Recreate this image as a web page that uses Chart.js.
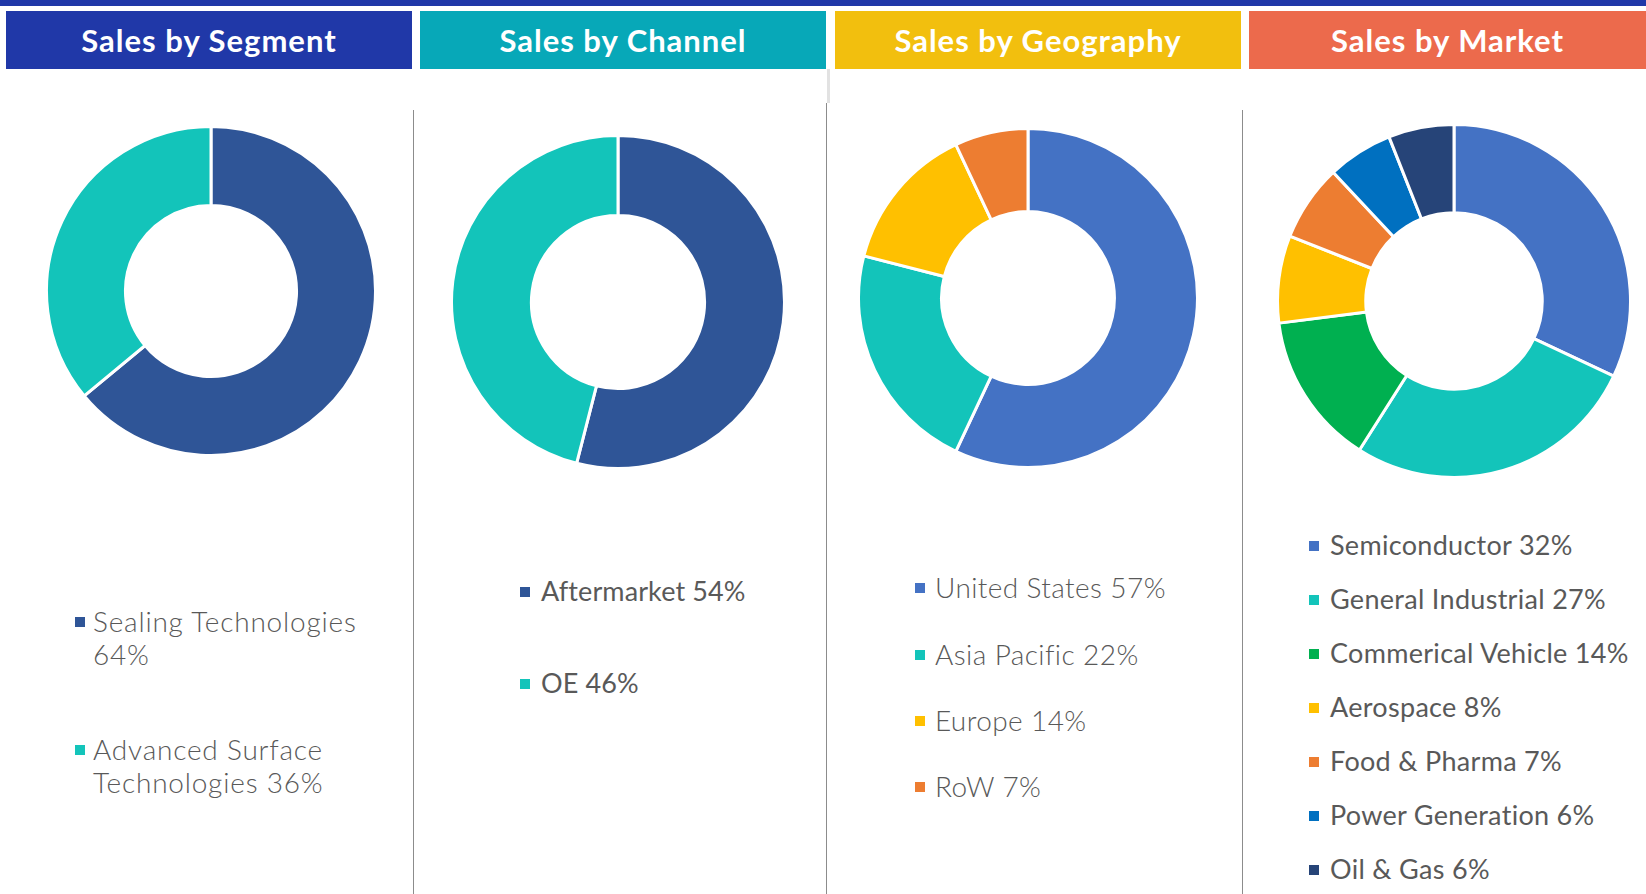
<!DOCTYPE html>
<html>
<head>
<meta charset="utf-8">
<script src="https://cdn.jsdelivr.net/npm/chart.js@4/dist/chart.umd.min.js"></script>
<style>
	body { margin: 0; width: 1646px; height: 894px; background: #fff; position: relative; overflow: hidden; font-family: Lato, "Open Sans", sans-serif; }
	.topbar { position: absolute; left: 0; top: 0; width: 1646px; height: 6px; background: #2038a8; }
	.head { position: absolute; top: 11px; height: 58px; color: #fff; font-weight: bold; font-size: 31px; letter-spacing: 1px; line-height: 58px; text-align: center; }
	.vline { position: absolute; width: 1px; background: #8c8c8c; bottom: 0; }
	canvas { position: absolute; }
	.legend { position: absolute; color: #595959; }
	.item { position: absolute; white-space: nowrap; }
	.item i { position: absolute; width: 10px; height: 10px; }
</style>
</head>
<body>
<div class="topbar"></div>
<div class="head" style="left:6px;width:406px;background:#2038a8">Sales by Segment</div>
<div class="head" style="left:420px;width:406px;background:#07a8b8">Sales by Channel</div>
<div class="head" style="left:835px;width:406px;background:#f2bf0e">Sales by Geography</div>
<div class="head" style="left:1249px;width:397px;background:#ec6a4c">Sales by Market</div>

<div class="vline" style="left:413px;top:110px"></div>
<div class="vline" style="left:826px;top:103px"></div>
<div class="vline" style="left:827px;top:69px;height:34px;width:3px;background:#e2e2e2"></div>
<div class="vline" style="left:1242px;top:110px"></div>

<canvas id="segChart" width="332" height="332" style="left:45px;top:125px"></canvas>
<canvas id="chanChart" width="336" height="336" style="left:450px;top:134px"></canvas>
<canvas id="geoChart" width="342" height="342" style="left:857px;top:127px"></canvas>
<canvas id="mktChart" width="356" height="356" style="left:1276px;top:123px"></canvas>

<div id="segLegend" class="legend"></div>
<div id="chanLegend" class="legend"></div>
<div id="geoLegend" class="legend"></div>
<div id="mktLegend" class="legend"></div>

<script>
	// 데이터
	const segLabels = ['Sealing Technologies', 'Advanced Surface Technologies'];
	const segValues = [64, 36];
	const segColors = ['#2f5597', '#13c4ba'];

	const chanLabels = ['Aftermarket', 'OE'];
	const chanValues = [54, 46];
	const chanColors = ['#2f5597', '#13c4ba'];

	const geoLabels = ['United States', 'Asia Pacific', 'Europe', 'RoW'];
	const geoValues = [57, 22, 14, 7];
	const geoColors = ['#4472c4', '#13c4ba', '#ffc000', '#ed7d31'];

	const mktLabels = ['Semiconductor', 'General Industrial', 'Commerical Vehicle', 'Aerospace', 'Food & Pharma', 'Power Generation', 'Oil & Gas'];
	const mktValues = [32, 27, 14, 8, 7, 6, 6];
	const mktColors = ['#4472c4', '#13c4ba', '#00b050', '#ffc000', '#ed7d31', '#0070c0', '#264478'];

	Chart.defaults.devicePixelRatio = 1;

	let makeDonut = function(id, labels, values, colors, cutout) {
		return new Chart(document.getElementById(id), {
			type: 'doughnut',
			data: {
				labels: labels,
				datasets: [{
					data: values,
					backgroundColor: colors,
					borderColor: '#ffffff',
					borderWidth: 3
				}]
			},
			options: {
				responsive: false,
				animation: false,
				cutout: cutout,
				plugins: {
					legend: { display: false },
					tooltip: { enabled: false }
				}
			}
		});
	}

	makeDonut('segChart', segLabels, segValues, segColors, '52%');
	makeDonut('chanChart', chanLabels, chanValues, chanColors, '52%');
	makeDonut('geoChart', geoLabels, geoValues, geoColors, '51%');
	makeDonut('mktChart', mktLabels, mktValues, mktColors, '50%');

	// 범례 - 줄 단위 텍스트를 직접 배치
	let buildLegend = function(id, cfg) {
		let box = document.getElementById(id);
		box.style.left = cfg.x + 'px';
		box.style.top = '0px';
		let tag = [];
		for (let i = 0; i < cfg.lines.length; i++) {
			let it = cfg.lines[i];
			tag.push('<div class="item" style="left:0;top:' + (it.y - cfg.lh / 2) + 'px;font-size:' + cfg.size + 'px;line-height:' + cfg.lh + 'px;letter-spacing:' + cfg.ls + 'px;font-weight:' + cfg.weight + '">');
			if (it.color) {
				tag.push('<i style="left:' + cfg.mx + 'px;top:' + (cfg.lh / 2 - 4) + 'px;background:' + it.color + '"></i>');
			}
			tag.push(it.text + '</div>');
		}
		box.innerHTML = tag.join('');
	}

	buildLegend('segLegend', {
		x: 93, size: 28, lh: 32, ls: 0.8, weight: 300, mx: -18,
		lines: [
			{ y: 621, text: segLabels[0], color: segColors[0] },
			{ y: 654, text: segValues[0] + '%' },
			{ y: 749, text: 'Advanced Surface', color: segColors[1] },
			{ y: 782, text: 'Technologies ' + segValues[1] + '%' }
		]
	});

	buildLegend('chanLegend', {
		x: 541, size: 27, lh: 32, ls: 0.1, weight: 400, mx: -21,
		lines: chanLabels.map(function(l, i) {
			return { y: [591, 683][i], text: l + ' ' + chanValues[i] + '%', color: chanColors[i] };
		})
	});

	buildLegend('geoLegend', {
		x: 935, size: 28, lh: 32, ls: 0.4, weight: 300, mx: -20,
		lines: geoLabels.map(function(l, i) {
			return { y: [587, 654, 720, 786][i], text: l + ' ' + geoValues[i] + '%', color: geoColors[i] };
		})
	});

	buildLegend('mktLegend', {
		x: 1330, size: 27, lh: 32, ls: 0.3, weight: 400, mx: -21,
		lines: mktLabels.map(function(l, i) {
			return { y: 545 + i * 54, text: l + ' ' + mktValues[i] + '%', color: mktColors[i] };
		})
	});
</script>
</body>
</html>
